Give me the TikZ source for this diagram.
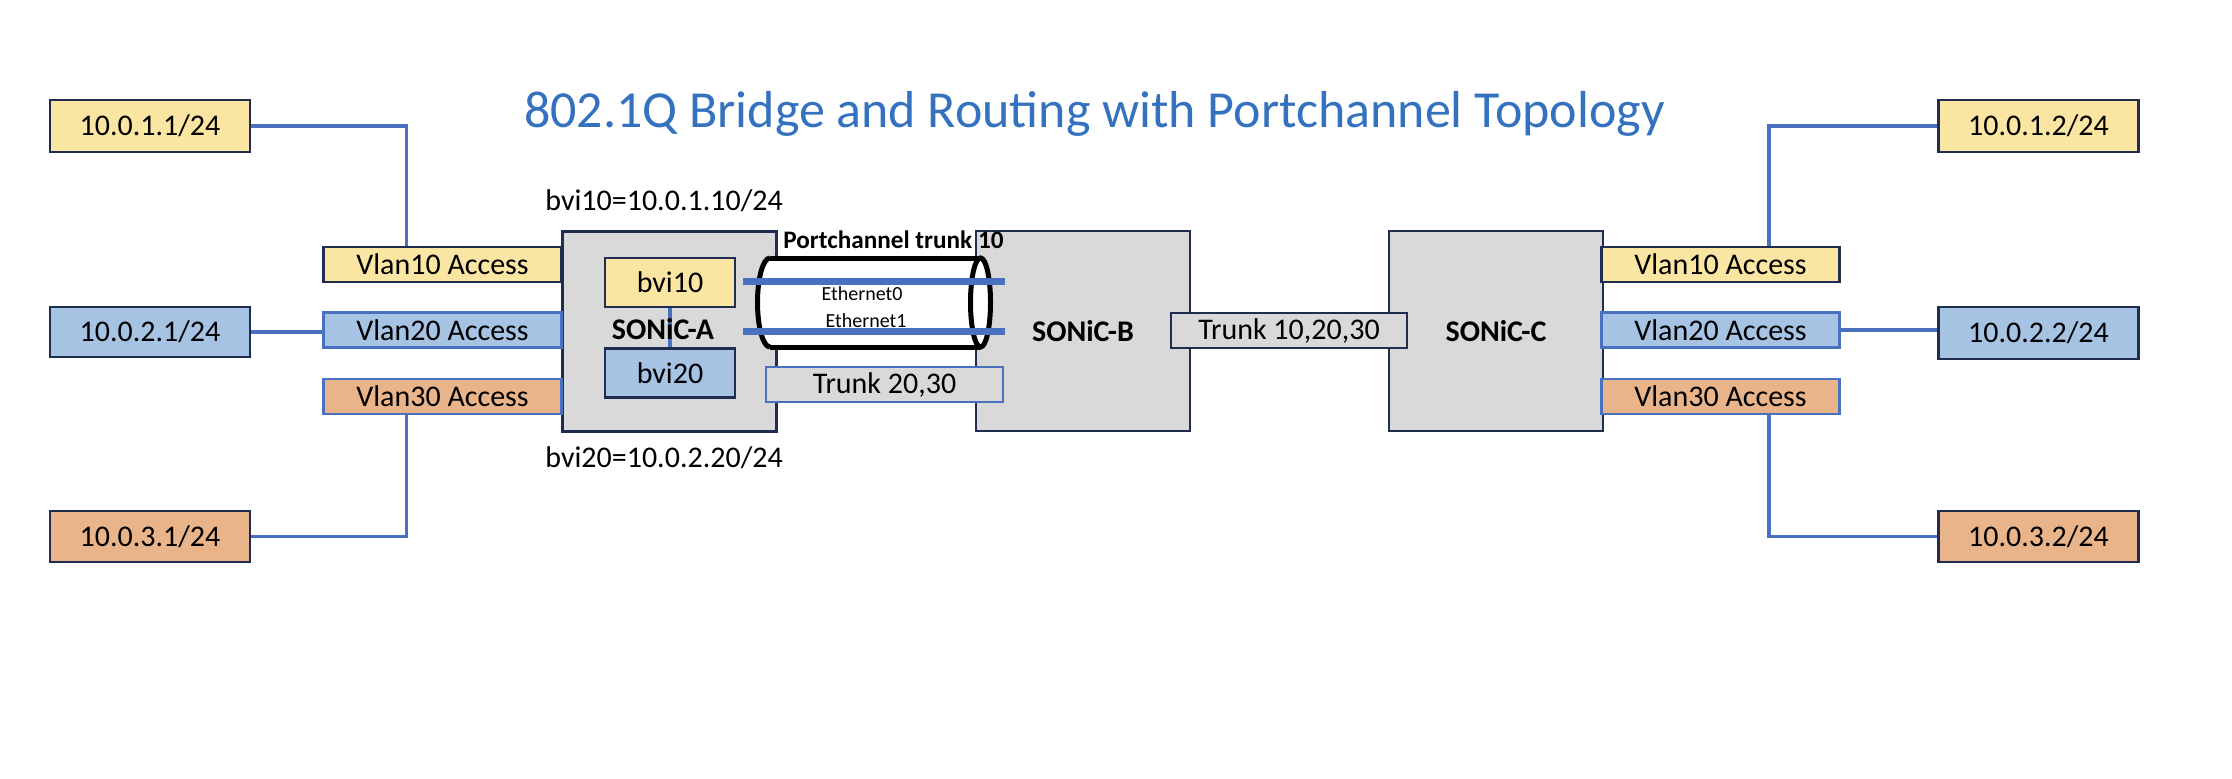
\documentclass[tikz,border=0pt]{standalone}
\usepackage{fontspec}
\setmainfont{Carlito}
\usetikzlibrary{calc}
\definecolor{navy}{RGB}{32,45,80}
\definecolor{lnblue}{RGB}{74,112,192}
\definecolor{yel}{RGB}{251,229,163}
\definecolor{lblue}{RGB}{166,195,227}
\definecolor{org}{RGB}{233,180,138}
\definecolor{gry}{RGB}{217,217,217}
\definecolor{ttl}{RGB}{52,113,190}
\newcommand\myfs[1]{\fontsize{#1}{#1}\selectfont}
\begin{document}
\begin{tikzpicture}[x=0.5pt,y=-0.5pt,
  box/.style={draw=navy, line width=1.35pt, inner sep=0pt, font=\myfs{15pt}},
  bbox/.style={box, draw=lnblue},
  ipbox/.style={box, minimum width=100pt},
  vlbox/.style={box, minimum width=119pt, minimum height=17.5pt},
  sonic/.style={box, fill=gry, minimum width=107pt, minimum height=100pt, font=\myfs{15pt}\bfseries},
  bvibox/.style={box, minimum width=65pt, minimum height=24.5pt},
  conn/.style={draw=lnblue, line width=1.8pt},
  eth/.style={draw=lnblue, line width=3.5pt},
  cyl/.style={draw=black, line width=2.5pt},
  lbl/.style={inner sep=0pt, font=\myfs{15pt}},
]
\useasboundingbox (0,0) rectangle (2232,778);
\fill[white] (0,0) rectangle (2232,778);

% title
\node[anchor=base, text=ttl, inner sep=0pt, font=\myfs{26pt}] (title) at (1094.5,127)
  {802.1Q Bridge and Routing with Portchannel Topology};

% end hosts left
\node[ipbox, fill=yel, minimum height=26pt] (ipa1) at (150,126) {10.0.1.1/24};
\node[ipbox, fill=lblue, minimum height=25pt] (ipa2) at (150,332) {10.0.2.1/24};
\node[ipbox, fill=org, minimum height=25.5pt] (ipa3) at (150,536.5) {10.0.3.1/24};
% end hosts right
\node[ipbox, fill=yel, minimum height=26pt] (ipc1) at (2038.5,126) {10.0.1.2/24};
\node[ipbox, fill=lblue, minimum height=26pt] (ipc2) at (2038.5,333) {10.0.2.2/24};
\node[ipbox, fill=org, minimum height=25.5pt] (ipc3) at (2038.5,536.5) {10.0.3.2/24};

% switches
\node[sonic] (swa) at (669.5,331.5) {};
\node[sonic] (swb) at (1083,331) {SONiC-B};
\node[sonic] (swc) at (1496,331) {SONiC-C};

% access ports left
\node[vlbox, fill=yel] (vla1) at (442.5,264.5) {Vlan10 Access};
\node[vlbox, bbox, fill=lblue] (vla2) at (442.5,330) {Vlan20 Access};
\node[vlbox, bbox, fill=org] (vla3) at (442.5,396.5) {Vlan30 Access};
% access ports right
\node[vlbox, fill=yel] (vlc1) at (1720.5,264.5) {Vlan10 Access};
\node[vlbox, bbox, fill=lblue] (vlc2) at (1720.5,330) {Vlan20 Access};
\node[vlbox, bbox, fill=org] (vlc3) at (1720.5,396.5) {Vlan30 Access};

% bvi
\node[bvibox, fill=yel] (bvi10) at (670,282.5) {bvi10};
\node[bvibox, fill=lblue] (bvi20) at (670,373) {bvi20};
\draw[draw=lnblue, line width=2pt] (bvi10.south) -- (bvi20.north);
\node[inner sep=0pt, font=\myfs{15pt}\bfseries] (swalbl) at (663,329) {SONiC-A};

% port-channel cylinder
\path[fill=white] (770,258) -- (980.5,258)
  arc[start angle=90, end angle=-90, x radius=5pt, y radius=22.25pt]
  -- (770,347)
  arc[start angle=270, end angle=90, x radius=6.25pt, y radius=22.25pt] -- cycle;
\draw[cyl] (770,258) -- (980.5,258);
\draw[cyl] (770,347) -- (980.5,347);
\draw[cyl] (770,347) arc[start angle=270, end angle=90, x radius=6.25pt, y radius=22.25pt];
\draw[cyl] (980.5,302.5) ellipse [x radius=5pt, y radius=22.25pt];

\coordinate (e0a) at (743,281);
\coordinate (e0b) at (1005,281);
\coordinate (e1a) at (743,331);
\coordinate (e1b) at (1005,331);
\draw[eth] (e0a) -- (e0b);
\draw[eth] (e1a) -- (e1b);

% trunks
\node[bbox, fill=gry, minimum width=118.5pt, minimum height=17.5pt] (trk1) at (884.5,384.5) {Trunk 20,30};
\node[box, fill=gry, minimum width=118pt, minimum height=17.5pt] (trk2) at (1289,330.5) {Trunk 10,20,30};

% labels
\node[lbl, anchor=base west] (bvi10lbl) at (545,210) {bvi10=10.0.1.10/24};
\node[lbl, anchor=base west] (bvi20lbl) at (545,467) {bvi20=10.0.2.20/24};
\node[anchor=base west, inner sep=0pt, font=\myfs{12.6pt}\bfseries] (pclbl) at (783,248.5) {Portchannel trunk 10};
\node[anchor=base, inner sep=0pt, font=\myfs{10pt}] (eth0lbl) at (862,300) {Ethernet0};
\node[anchor=base, inner sep=0pt, font=\myfs{10pt}] (eth1lbl) at (866,327) {Ethernet1};

% connectors left
\coordinate (ja1) at ($(ipa1.east)+(155,0)$);
\coordinate (ja3) at ($(ipa3.east)+(155,0)$);
\draw[conn] (ipa1.east) -- (ja1) -- (ja1 |- vla1.north);
\draw[conn] (ipa2.east) -- (ipa2.east -| vla2.west);
\draw[conn] (ja3 |- vla3.south) -- (ja3) -- (ipa3.east);
% connectors right
\coordinate (jc1) at ($(ipc1.west)-(168,0)$);
\coordinate (jc3) at ($(ipc3.west)-(168,0)$);
\draw[conn] (ipc1.west) -- (jc1) -- (jc1 |- vlc1.north);
\draw[conn] (vlc2.east) -- (vlc2.east -| ipc2.west);
\draw[conn] (jc3 |- vlc3.south) -- (jc3) -- (ipc3.west);
\end{tikzpicture}
\end{document}
